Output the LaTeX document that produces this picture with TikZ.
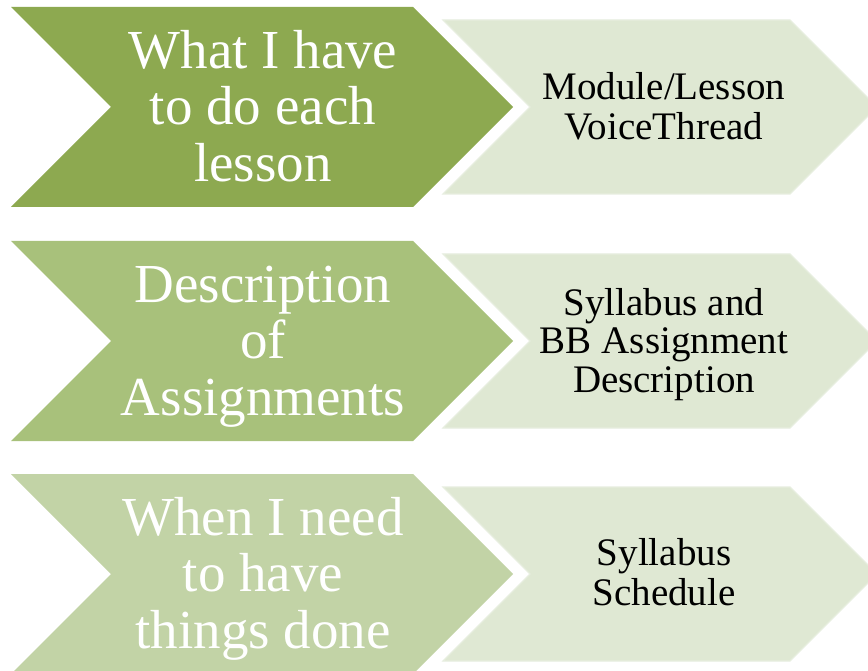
\documentclass[tikz,border=0pt]{standalone}
\usepackage{fontspec}
\setmainfont{Liberation Serif}
\definecolor{dark}{RGB}{141,169,80}
\definecolor{mid}{RGB}{168,193,123}
\definecolor{light}{RGB}{194,211,166}
\definecolor{pale}{RGB}{223,232,211}
\definecolor{paleedge}{RGB}{231,238,223}
\begin{document}
\begin{tikzpicture}[x=1pt,y=-1pt,
  bigtext/.style={text=white,align=center,font=\fontsize{55}{56.5}\selectfont,inner sep=0pt},
  smalltext/.style={text=black,align=center,font=\fontsize{39}{38.5}\selectfont,inner sep=0pt},
  paleshape/.style={fill=pale,draw=paleedge,line width=1.2pt,line join=miter}]
\useasboundingbox (0,0) rectangle (868,671);
\clip (0,0) rectangle (868,671);
\fill[white] (0,0) rectangle (868,671);
% row 1
\fill[dark] (11,7) -- (413,7) -- (513,107) -- (413,207) -- (11,207) -- (111,107) -- cycle;
\draw[paleshape] (443,20) -- (790,20) -- (877,107) -- (790,194) -- (443,194) -- (530,107) -- cycle;
\node[bigtext] (t1) at (263,113.5) {\strut What I have\\\strut to do each\\\strut lesson};
\node[smalltext] (s1) at (664,112) {\strut Module/Lesson\\\strut VoiceThread};
% row 2
\fill[mid] (11,241) -- (413,241) -- (513,341) -- (413,441) -- (11,441) -- (111,341) -- cycle;
\draw[paleshape] (443,254) -- (790,254) -- (877,341) -- (790,428) -- (443,428) -- (530,341) -- cycle;
\node[bigtext] (t2) at (263,347.5) {\strut Description\\\strut of\\\strut Assignments};
\node[smalltext] (s2) at (664,346) {\strut Syllabus and\\\strut BB Assignment\\\strut Description};
% row 3
\fill[light] (11,474) -- (413,474) -- (513,574) -- (413,674) -- (11,674) -- (111,574) -- cycle;
\draw[paleshape] (443,487) -- (790,487) -- (877,574) -- (790,661) -- (443,661) -- (530,574) -- cycle;
\node[bigtext] (t3) at (263,580.5) {\strut When I need\\\strut to have\\\strut things done};
\node[smalltext] (s3) at (664,578) {\strut Syllabus\\\strut Schedule};
\end{tikzpicture}
\end{document}
